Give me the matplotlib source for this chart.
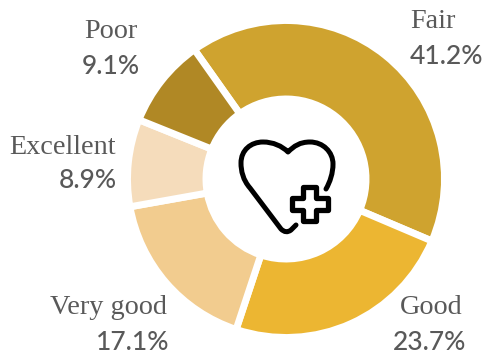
import matplotlib.pyplot as plt
from matplotlib.path import Path
from matplotlib.patches import PathPatch

W, H = 484, 358

categories = ['Fair', 'Good', 'Very good', 'Excellent', 'Poor']
shares = [41.2, 23.7, 17.1, 8.9, 9.1]
colors = ['#CFA32F', '#ECB632', '#F2CC8F', '#F5DCBB', '#B08825']
# label centres in pixels, measured from the top left
name_xy = [(433, 22), (431, 308), (108, 308), (63, 147), (111, 32)]
value_xy = [(446, 56), (430, 342), (133, 342), (88, 181), (111, 66)]


def to_axes(points):
    # icon points are written in pixels with y pointing down
    return [(x, H - y) for x, y in points]


def draw_icon(ax):
    heart = to_axes([(296, 225), (291, 230), (286, 234), (281, 229),
                     (250, 188),
                     (243, 180), (241, 171), (241, 163),
                     (241, 150), (251, 142), (263, 142),
                     (273, 142), (282, 146), (288, 152),
                     (294, 146), (300, 142), (310, 142),
                     (323, 142), (333, 152), (333, 164),
                     (333, 173), (330, 182), (326, 189)])
    codes = [Path.MOVETO, Path.LINETO, Path.CURVE3, Path.CURVE3, Path.LINETO]
    codes += [Path.CURVE4] * 18
    ax.add_patch(PathPatch(Path(heart, codes), fill=False, ec='black', lw=3.6,
                           capstyle='round', joinstyle='round', zorder=5))
    cross = to_axes([(303, 187), (316, 187), (316, 198), (328, 198),
                     (328, 210), (316, 210), (316, 221), (303, 221),
                     (303, 210), (292, 210), (292, 198), (303, 198),
                     (303, 187)])
    ax.add_patch(PathPatch(Path(cross, closed=True), fc='white', ec='black',
                           lw=3.8, joinstyle='round', zorder=6))


fig = plt.figure(figsize=(W / 100, H / 100), dpi=100)
ax = fig.add_axes([0, 0, 1, 1])

# white wedge edges give the gaps between the slices
ax.pie(shares, colors=colors, startangle=125.3, counterclock=False,
       center=(286, H - 179), radius=158.5, frame=True,
       wedgeprops={'width': 78.5, 'edgecolor': 'white', 'linewidth': 5.0})

ax.set_xlim(0, W)
ax.set_ylim(0, H)
ax.set_aspect('equal')
ax.axis('off')

draw_icon(ax)

for name, share, (nx, ny), (vx, vy) in zip(categories, shares, name_xy, value_xy):
    ax.text(nx, H - ny, name, ha='center', va='center', fontsize=20.3,
            family='Liberation Serif', color='#595959')
    ax.text(vx, H - vy, f'{share}%', ha='center', va='center', fontsize=19,
            family='Lato', weight='medium', color='#595959')

fig.savefig('out.png', dpi=100)
